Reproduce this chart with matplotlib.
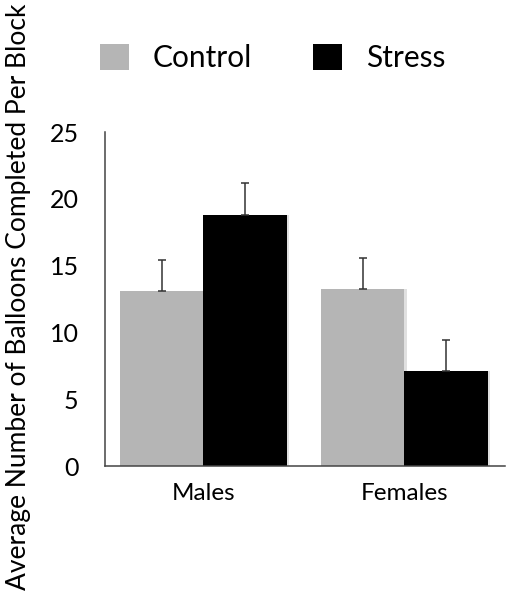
import matplotlib
matplotlib.use("Agg")
import matplotlib.pyplot as plt
import numpy as np

groups = ["Males", "Females"]
series = ["Control", "Stress"]
control = [13.1, 13.25]
stress = [18.8, 7.1]
control_err = [2.3, 2.35]
stress_err = [2.4, 2.3]
yticks = [0, 5, 10, 15, 20, 25]
colors = ["#b5b5b5", "#000000"]

plt.rcParams['font.family'] = ['Lato', 'DejaVu Sans']

fig = plt.figure(figsize=(5.15, 6.01), dpi=100)
ax = fig.add_axes([105/515, 1-466/601, 400/515, (466-132)/601])

x = np.arange(len(groups))
w = 0.413
vals = [control, stress]
errs = [control_err, stress_err]
for i, (v, e, c) in enumerate(zip(vals, errs, colors)):
    pos = x + (i - 0.5) * w
    # soft shadow
    ax.bar(pos + 0.012, v, width=w, color="#000000", alpha=0.12, zorder=1)
    ax.bar(pos, v, width=w, color=c, zorder=2, label=series[i])
    ax.errorbar(pos, v, yerr=[np.zeros(len(e)), e], fmt='none', ecolor="#333333",
                elinewidth=1.1, capsize=2.6, capthick=1.1, zorder=3)

ax.set_xlim(-0.49, 1.5)
ax.set_ylim(0, 25)
ax.set_yticks(yticks)
ax.set_xticks(x)
ax.set_xticklabels(groups)
ax.tick_params(axis='y', length=0, pad=19, labelsize=18)
ax.tick_params(axis='x', length=0, pad=12, labelsize=17.5)
for s in ["top", "right"]:
    ax.spines[s].set_visible(False)
for s in ["left", "bottom"]:
    ax.spines[s].set_color("#444444")
    ax.spines[s].set_linewidth(1.1)

fig.text(19/515, 1-297/601, "Average Number of Balloons Completed Per Block",
         rotation=90, ha="center", va="center", fontsize=19)

leg = fig.legend(loc="center left", bbox_to_anchor=(73/515, 1-58/601), ncol=2,
                 frameon=False, fontsize=21.5, handlelength=0.97, handleheight=0.97,
                 columnspacing=2.05, handletextpad=0.8)

fig.savefig("out.png", dpi=100)
